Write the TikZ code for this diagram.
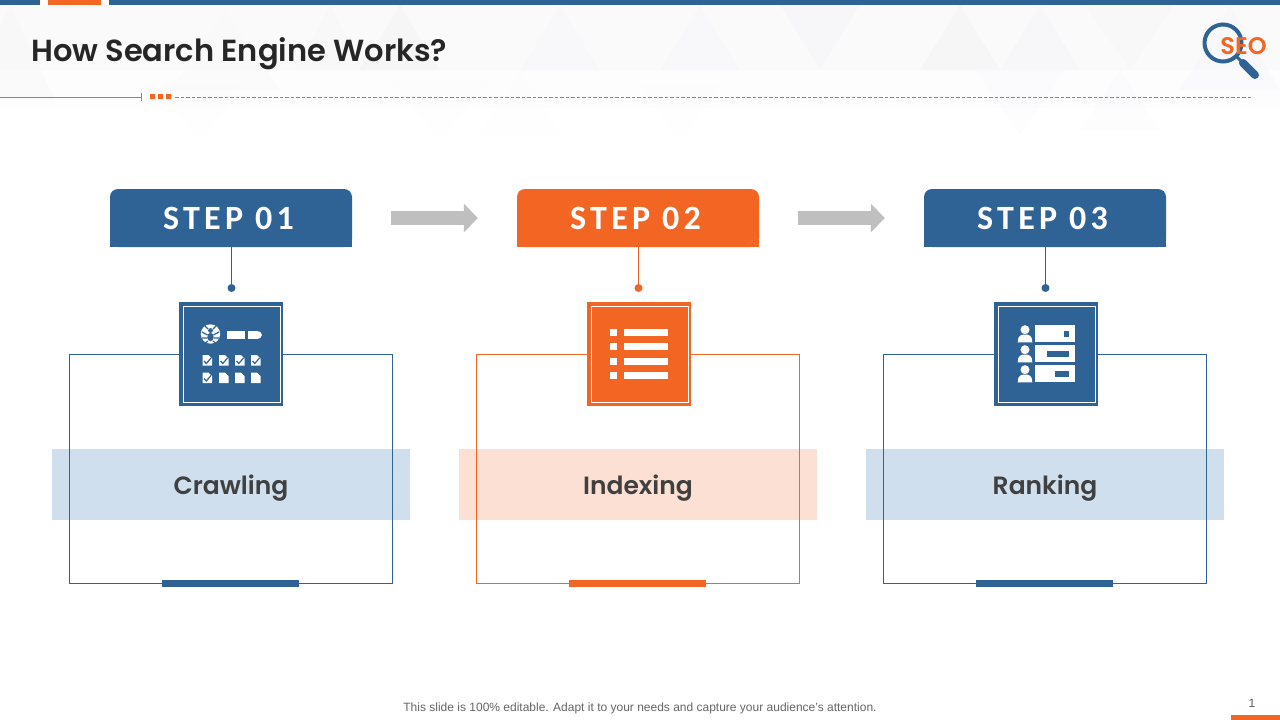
\documentclass[tikz,border=0pt]{standalone}
\usepackage{fontspec}
\usetikzlibrary{arrows.meta}
\setmainfont{Liberation Sans}
\newfontfamily\gothic{Poppins}[BoldFont={Poppins SemiBold}]
\newfontfamily\stepfont[LetterSpace=12.5]{Carlito}
\definecolor{sblue}{HTML}{2F6395}
\definecolor{sorange}{HTML}{F26522}
\definecolor{bandblue}{HTML}{CFDFEE}
\definecolor{bandorange}{HTML}{FCE0D4}
\definecolor{sgrey}{HTML}{BFBFBF}
\definecolor{tri}{HTML}{EFEFF2}
\tikzset{
  x=1pt,y=-1pt,
  header/.style={fill=#1,text=white,minimum width=242pt,minimum height=58pt,inner sep=0pt,rounded corners=8pt,font=\stepfont\fontsize{34}{34}\selectfont\bfseries},
  framebox/.style={draw=#1,line width=1pt,fill=none},
  band/.style={minimum width=358pt,minimum height=71pt,inner sep=0pt,fill=#1},
  bandtext/.style={inner sep=0pt,text=black!75,font=\gothic\fontsize{25}{25}\selectfont\bfseries},
  iconbox/.style={fill=#1,minimum width=104pt,minimum height=104pt,inner sep=0pt},
  iconline/.style={draw=white,line width=1pt,fill=none,minimum width=97pt,minimum height=96pt,inner sep=0pt},
  dotnode/.style={circle,fill=#1,minimum size=8pt,inner sep=0pt},
  barnode/.style={fill=#1,minimum width=137pt,minimum height=7pt,inner sep=0pt},
  stem/.style={draw=#1,line width=1pt},
  flow/.style={draw=sgrey,line width=14pt,-{Triangle[length=14pt,width=28pt]}},
}
% \stepcol{id}{center x}{colour}{band colour}{step text}{label}{icon x}
\newcommand{\stepcol}[7]{%
  \fill[#3] (#2-121,218) rectangle (#2+121,247);
  \node[header=#3] (h#1) at (#2,218) {#5\kern 5pt};
  \node[band=#4] (b#1) at (#2,484.5) {};
  \node[bandtext] (t#1) at (#2,488) {#6};
  \draw[framebox=#3] (#2-161.7,354.5) rectangle (#2+161.7,583.5);
  \node[dotnode=#3] (d#1) at (#2+0.5,288) {};
  \draw[stem=#3] (d#1.center |- h#1.south) -- (d#1.center);
  \node[iconbox=#3] (i#1) at (#7,354) {};
  \node[iconline] (l#1) at (#7+0.5,354) {};
  \node[barnode=#3] (s#1) at (#2-0.5,583.5) {};
}
\begin{document}
\begin{tikzpicture}
\useasboundingbox (0,0) rectangle (1280,720);
\fill[white] (0,0) rectangle (1280,720);
% faint background triangles
\foreach \p/\w/\t/\b/\o in {
 10/45/5/100/.16, 225/55/10/90/.12, 400/40/5/70/.35, 330/35/5/70/.16, 560/40/5/70/.14,
 700/40/5/70/.14, 820/40/70/5/.2, 960/40/5/70/.35, 1040/40/5/70/.22, 1130/45/70/5/.16,
 1230/50/5/90/.14, 520/40/70/135/.06, 200/45/140/85/.06, 680/40/140/85/.06, 1120/40/70/130/.07,
 1020/45/135/70/.07, 440/50/140/80/.05}{
  \fill[tri,opacity=\o] (\p,\t) -- (\p+\w,\b) -- (\p-\w,\b) -- cycle;
}
\fill[tri,opacity=.25] (0,5) rectangle (1280,70);
\fill[tri,opacity=.08] (0,70) rectangle (1280,108);
% top strip
\fill[sblue] (0,0) rectangle (40,5);
\fill[sorange] (48,0) rectangle (101,5);
\fill[sblue] (109,0) rectangle (1280,5);
% title
\node[anchor=west,inner sep=0pt,text=black!85,font=\gothic\fontsize{30.5}{30.5}\selectfont\bfseries] (title) at (31,54) {How Search Engine Works?};
% rule
\coordinate (r0) at (0,97.5); \coordinate (r1) at (141,97.5);
\coordinate (r2) at (175,97.5); \coordinate (r3) at (1251,97.5);
\draw[draw=sorange,line width=1.1pt] (r0) -- (r1);
\draw[draw=sorange,line width=.8pt] (141,93) -- (141,101);
\fill[sorange] (150,94) rectangle (155,99) (158,94) rectangle (163,99) (166,94) rectangle (171,99);
\draw[draw=sorange,line width=1.1pt,dash pattern=on 3.5pt off 2pt] (r2) -- (r3);
% SEO logo
\draw[sblue,line width=4pt] (1223,43) circle (18.5);
\draw[sblue,line width=3pt] (1236,56) -- (1244,64);
\draw[sblue,line width=8pt,line cap=round] (1243,63) -- (1255,75);
\node[text=sorange,inner sep=0pt,font=\gothic\fontsize{24}{24}\selectfont\bfseries] (seo) at (1243.5,46) {SEO};
% columns
\stepcol{1}{231}{sblue}{bandblue}{STEP 01}{Crawling}{231}
\stepcol{2}{638}{sorange}{bandorange}{STEP 02}{Indexing}{639}
\stepcol{3}{1045}{sblue}{bandblue}{STEP 03}{Ranking}{1046}
% arrows
\draw[flow] ([xshift=39pt]h1.east) -- ([xshift=-39pt]h2.west);
\draw[flow] ([xshift=39pt]h2.east) -- ([xshift=-39pt]h3.west);
% crawling icon
\fill[white] (210.5,334) circle (9.7);
\fill[sblue] (210.5,330.5) circle (2.4);
\fill[sblue] (210.5,337) ellipse (3.2 and 4.2);
\draw[sblue,line width=1.2pt] (207.5,335) -- (202,332) (207.5,338) -- (202,338) (208,341) -- (204,344)
  (213.5,335) -- (219,332) (213.5,338) -- (219,338) (213,341) -- (217,344)
  (208,329) -- (205,326) (213,329) -- (216,326);
\fill[white] (227,331) rectangle (245,339);
\fill[white] (248,331) rectangle (257,339);
\fill[white] (257,335) ellipse (5 and 4);
\foreach \x/\y/\k in {202.5/355/1,219/355/1,235/355/1,251/355/1,202.5/372.5/1,219/372.5/0,235/372.5/0,251/372.5/0}{
  \fill[white] (\x,\y) -- (\x+6,\y) -- (\x+9.5,\y+3.5) -- (\x+9.5,\y+10.5) -- (\x,\y+10.5) -- cycle;
  \ifnum\k=1 \draw[sblue,line width=1.2pt] (\x+1.5,\y+6) -- (\x+3.8,\y+8.5) -- (\x+8.5,\y+3); \fi
}
% indexing icon
\foreach \y in {329,343.3,357.7,372}{
  \fill[white] (610.3,\y) rectangle (617.3,\y+7);
  \fill[white] (624,\y) rectangle (668,\y+7);
}
% ranking icon
\foreach \y/\a in {325/1063.7,345/1046.7,365/1055}{
  \fill[white] (1035,\y) rectangle (1075,\y+17.3);
  \fill[sblue] (\a,\y+6) rectangle (1069.3,\y+11.7);
  \fill[white] (1025,\y+4.7) circle (4.5);
  \fill[white] (1017.7,\y+17.3) .. controls (1017.7,\y+10.5) and (1021,\y+9.5) .. (1025,\y+9.5) .. controls (1029,\y+9.5) and (1032.3,\y+10.5) .. (1032.3,\y+17.3) -- cycle;
}
% footer
\node[text=black!60,inner sep=0pt,font=\fontsize{12}{12}\selectfont] (foot) at (640,708) {This slide is 100\% editable. Adapt it to your needs and capture your audience's attention.};
\node[text=black!65,inner sep=0pt,font=\fontsize{12}{12}\selectfont] (page) at (1252,703.5) {1};
\fill[sorange] (1231,715) rectangle (1280,720);
\end{tikzpicture}
\end{document}
